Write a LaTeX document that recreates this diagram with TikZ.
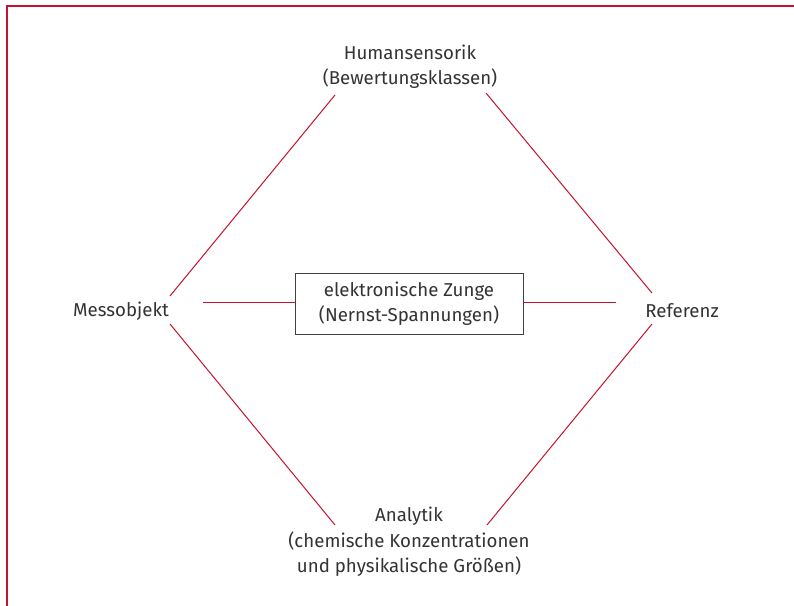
\documentclass[tikz,border=0pt]{standalone}
\usepackage{fontspec}
\setmainfont{Fira Sans}
\usetikzlibrary{positioning,calc}
\definecolor{linkred}{HTML}{C4122F}
\definecolor{textgray}{HTML}{333333}
\tikzset{
  frame/.style={draw=linkred, line width=1.1pt},
  link/.style={draw=linkred, line width=0.75pt},
  label/.style={align=center, text=textgray, inner sep=0pt,
    font=\fontsize{14}{19}\selectfont},
  box/.style={label, draw=black!75, line width=0.7pt,
    minimum width=171pt, minimum height=45.75pt},
}

\begin{document}
\begin{tikzpicture}[x=0.75pt,y=-0.75pt]
  \useasboundingbox (0,0) rectangle (794,606);
  % frame
  \draw[frame] (7,606) -- (7,6) -- (794,6);

  % corners of the diagram
  \node[label] (hum)  at (410,67)  {Humansensorik\\(Bewertungsklassen)};
  \node[label] (mess) at (121,311) {Messobjekt};
  \node[label] (ref)  at (682,311) {Referenz};
  \node[label] (ana)  at (409,542) {Analytik\\(chemische Konzentrationen\\und physikalische Größen)};
  \node[box]   (zunge) at (409,303.5) {elektronische Zunge\\(Nernst-Spannungen)};

  % line ends
  \coordinate (mess-n) at (170,296);
  \coordinate (mess-s) at (170,324);
  \coordinate (mess-e) at (203,302.5);
  \coordinate (ref-n)  at (652,293);
  \coordinate (ref-s)  at (652,324);
  \coordinate (ref-w)  at (616,302.5);
  \coordinate (hum-w)  at (335,95);
  \coordinate (hum-e)  at (486,93);
  \coordinate (ana-w)  at (335,525);
  \coordinate (ana-e)  at (487,525);

  \draw[link] (mess-n) -- (hum-w);
  \draw[link] (hum-e) -- (ref-n);
  \draw[link] (mess-s) -- (ana-w);
  \draw[link] (ref-s) -- (ana-e);
  \draw[link] (mess-e) -- (zunge.west |- mess-e);
  \draw[link] (zunge.east |- ref-w) -- (ref-w);
\end{tikzpicture}
\end{document}
